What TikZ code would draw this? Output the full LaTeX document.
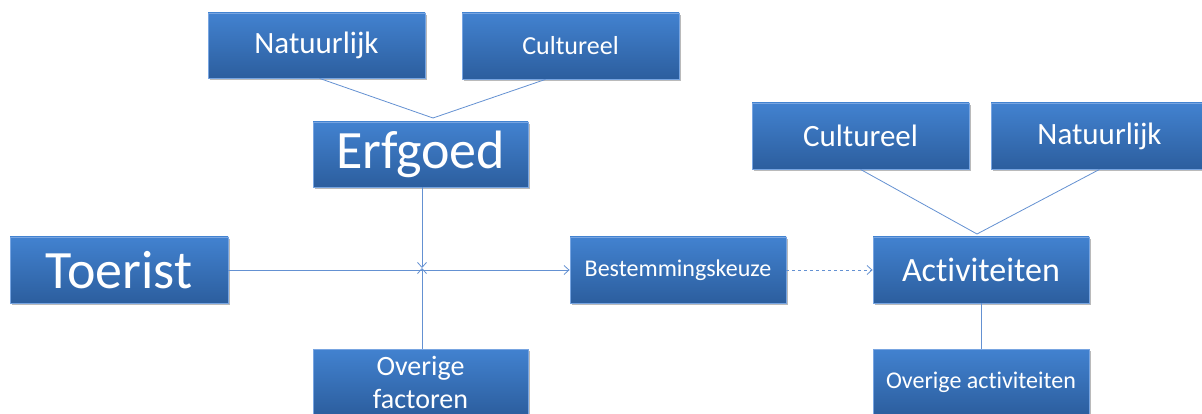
\documentclass[tikz,border=0pt]{standalone}
\usepackage{fontspec}
\setmainfont[Ligatures={NoCommon,NoRare,NoDiscretionary}]{Carlito}
\usetikzlibrary{arrows.meta,shadows}
\definecolor{boxtop}{RGB}{66,130,208}
\definecolor{boxbot}{RGB}{44,94,158}
\definecolor{boxedge}{RGB}{120,165,225}
\definecolor{conn}{RGB}{100,145,210}
\begin{document}
\begin{tikzpicture}[x=1pt,y=-1pt,
  blok/.style={rectangle, top color=boxtop, bottom color=boxbot, draw=boxedge, line width=0.8pt,
    text=white, inner sep=0pt, align=center,
    drop shadow={shadow xshift=2pt, shadow yshift=-2pt, opacity=0.45, fill=black!60}},
  verb/.style={draw=conn, line width=0.8pt},
  pijl/.style={verb, -{Straight Barb[length=5pt,width=9pt]}},
  fXL/.style={font=\fontsize{54}{60}\selectfont},
  fL/.style={font=\fontsize{34}{40}\selectfont},
  fM/.style={font=\fontsize{31}{36}\selectfont},
  fS/.style={font=\fontsize{26}{31}\selectfont},
  fXS/.style={font=\fontsize{24}{29}\selectfont},
  fOF/.style={font=\fontsize{28}{33}\selectfont}]
\useasboundingbox (0,0) rectangle (1202,414);
\clip (0,0) rectangle (1202,414);
\fill[white] (0,0) rectangle (1202,414);

\node[blok, fM, minimum width=217pt, minimum height=65pt] (nat1) at (316.5,45.5) {Natuurlijk};
\node[blok, fS, minimum width=217pt, minimum height=66pt] (cul1) at (570.5,46) {Cultureel};
\node[blok, fXL, minimum width=215pt, minimum height=65pt] (erf) at (420.5,154.5) {Erfgoed};
\node[blok, fXL, minimum width=218pt, minimum height=66pt] (toe) at (119,270) {Toerist};
\node[blok, fOF, minimum width=215pt, minimum height=66pt] (ovf) at (420.5,382) {Overige\\factoren};
\node[blok, fXS, minimum width=216pt, minimum height=66pt] (bes) at (678,270) {Bestemmingskeuze};
\node[blok, fL, minimum width=216pt, minimum height=66pt] (act) at (981,270) {Activiteiten};
\node[blok, fM, minimum width=217pt, minimum height=66pt] (cul2) at (860.5,136) {Cultureel};
\node[blok, fM, minimum width=217pt, minimum height=66pt] (nat2) at (1099.5,136) {Natuurlijk};
\node[blok, fXS, minimum width=216pt, minimum height=66pt] (ova) at (981,382) {Overige activiteiten};

\coordinate (j1) at (433,118);
\coordinate (j2) at (977,234);
\coordinate (kruis) at (422,268);

\draw[verb] ([xshift=3pt]nat1.south) -- (j1);
\draw[verb] ([xshift=-25pt]cul1.south) -- (j1);
\draw[verb] (cul2.south) -- (j2);
\draw[verb] (nat2.south) -- (j2);
\draw[pijl] ([xshift=1.5pt]erf.south) -- (kruis);
\draw[pijl] ([xshift=1.5pt]ovf.north) -- (kruis);
\draw[pijl] (toe.east) -- (bes.west);
\draw[pijl, dashed] (bes.east) -- (act.west);
\draw[verb] (act.south) -- (ova.north);
\end{tikzpicture}
\end{document}
